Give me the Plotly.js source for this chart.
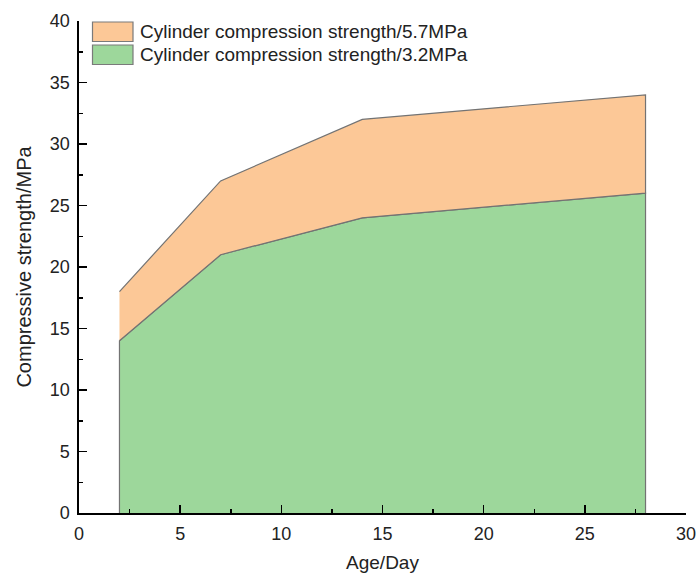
<!DOCTYPE html>
<html>
<head>
<meta charset="utf-8">
<script src="https://cdn.plot.ly/plotly-3.0.1.min.js"></script>
<style>html,body{margin:0;padding:0;background:#fff;}#chart{width:699px;height:573px;}</style>
</head>
<body>
<div id="chart"></div>
<script>
var ageDays = [2, 7, 14, 28];
var strength32 = [14, 21, 24, 26];
var strength57 = [18, 27, 32, 34];
var seriesNames = ['Cylinder compression strength/5.7MPa', 'Cylinder compression strength/3.2MPa'];
var seriesColors = ['#fcc897', '#9dd79b'];
var xTickVals = [0, 5, 10, 15, 20, 25, 30];
var yTickVals = [0, 5, 10, 15, 20, 25, 30, 35, 40];

// closed polygons built from the data arrays
var n = ageDays.length;
var greenX = [ageDays[0]].concat(ageDays, [ageDays[n - 1]]);
var greenY = [0].concat(strength32, [0]);
var orangeX = ageDays.concat(ageDays.slice().reverse());
var orangeY = strength57.concat(strength32.slice().reverse());

var edge = {color: '#737373', width: 1.2};
var traces = [
  {x: greenX, y: greenY, name: seriesNames[1], type: 'scatter', mode: 'lines',
   fill: 'toself', fillcolor: seriesColors[1], line: edge, showlegend: false},
  {x: orangeX, y: orangeY, name: seriesNames[0], type: 'scatter', mode: 'lines',
   fill: 'toself', fillcolor: seriesColors[0], line: edge, showlegend: false}
];

var tickFont = {family: 'Liberation Sans, Arial, sans-serif', size: 18, color: '#222'};
var titleFont = {family: 'Liberation Sans, Arial, sans-serif', size: 19, color: '#222'};
var yTitleFont = {family: 'Liberation Sans, Arial, sans-serif', size: 20, color: '#222'};

// manual legend (plot area: x 79..686 px, y 21..513 px)
var L = 79, R = 686, T = 21, B = 513;
function px(xp) { return (xp - L) / (R - L); }
function py(yp) { return (B - yp) / (B - T); }
var legendRows = [{top: 22, bottom: 41.5}, {top: 45, bottom: 64.5}];
var shapes = [], annotations = [];
legendRows.forEach(function (r, i) {
  shapes.push({type: 'rect', xref: 'paper', yref: 'paper',
    x0: px(92.5), x1: px(133), y0: py(r.bottom), y1: py(r.top),
    fillcolor: seriesColors[i], line: {color: '#7a7a7a', width: 1.2}});
  annotations.push({xref: 'paper', yref: 'paper', x: px(138), y: py((r.top + r.bottom) / 2),
    xanchor: 'left', yanchor: 'middle', showarrow: false, text: seriesNames[i], font: titleFont});
});

var layout = {
  width: 699, height: 573,
  margin: {l: 79, r: 13, t: 21, b: 60},
  paper_bgcolor: '#fff', plot_bgcolor: '#fff',
  font: tickFont,
  showlegend: false,
  shapes: shapes,
  annotations: annotations,
  xaxis: {range: [0, 30], tickvals: xTickVals, ticks: 'inside', ticklen: 8, tickwidth: 1.5,
          tickcolor: '#000', showline: true, linecolor: '#000', linewidth: 1.6, showgrid: false,
          zeroline: false, tickfont: tickFont, ticklabelstandoff: 4,
          title: {text: 'Age/Day', font: titleFont, standoff: 14},
          minor: {dtick: 2.5, ticks: 'inside', ticklen: 4, tickwidth: 1.5, tickcolor: '#000', showgrid: false}},
  yaxis: {range: [0, 40], tickvals: yTickVals, ticks: 'inside', ticklen: 8, tickwidth: 1.5,
          tickcolor: '#000', showline: true, linecolor: '#000', linewidth: 1.6, showgrid: false,
          zeroline: false, tickfont: tickFont, ticklabelstandoff: 4,
          title: {text: 'Compressive strength/MPa', font: yTitleFont, standoff: 13},
          minor: {dtick: 2.5, ticks: 'inside', ticklen: 4, tickwidth: 1.5, tickcolor: '#000', showgrid: false}}
};
Plotly.newPlot('chart', traces, layout, {displayModeBar: false, staticPlot: true});
</script>
</body>
</html>
